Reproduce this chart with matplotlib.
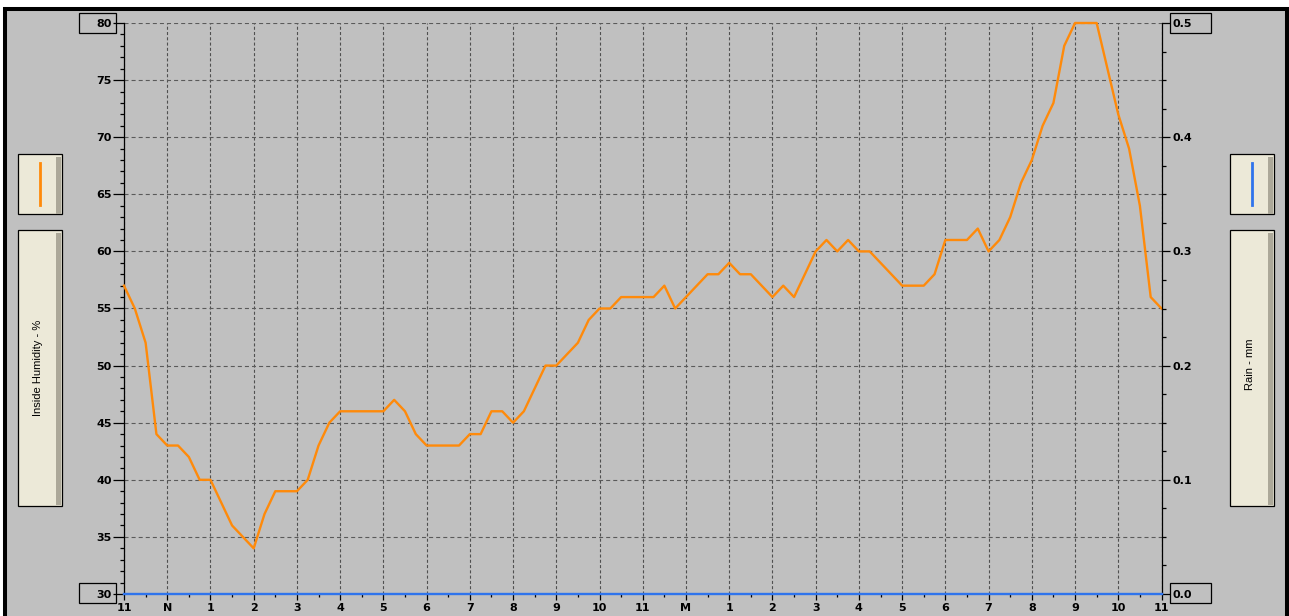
import numpy as np
import matplotlib.pyplot as plt
from matplotlib.patches import Rectangle
from matplotlib.lines import Line2D
from matplotlib.ticker import MultipleLocator, FormatStrFormatter

plt.rcParams["font.family"] = ["Liberation Sans", "DejaVu Sans"]
plt.rcParams["lines.scale_dashes"] = False

# hour labels along the bottom (11 am -> 11 am next day)
hour_labels = ["11", "N", "1", "2", "3", "4", "5", "6", "7", "8", "9", "10", "11",
               "M", "1", "2", "3", "4", "5", "6", "7", "8", "9", "10", "11"]

# inside humidity (%), one reading every 15 minutes
humidity = [57, 55, 52, 44,
            43, 43, 42, 40,
            40, 38, 36, 35,
            34, 37, 39, 39,
            39, 40, 43, 45,
            46, 46, 46, 46,
            46, 47, 46, 44,
            43, 43, 43, 43,
            44, 44, 46, 46,
            45, 46, 48, 50,
            50, 51, 52, 54,
            55, 55, 56, 56,
            56, 56, 57, 55,
            56, 57, 58, 58,
            59, 58, 58, 57,
            56, 57, 56, 58,
            60, 61, 60, 61,
            60, 60, 59, 58,
            57, 57, 57, 58,
            61, 61, 61, 62,
            60, 61, 63, 66,
            68, 71, 73, 78,
            80, 80, 80, 76,
            72, 69, 64, 56,
            55]

# rain (mm) - nothing fell
rain = [0.0] * len(humidity)

hours = np.arange(len(humidity)) * 0.25

ORANGE = "#ff8a0a"
BLUE = "#2f74ec"
W, H = 1289, 616
TICKFONT = dict(family="DejaVu Sans", weight="bold", size=8)


def px(x, y, w, h):
    # pixel box (top-left origin) -> figure fraction
    return (x / W, 1 - (y + h) / H), w / W, h / H


fig = plt.figure(figsize=(W / 100, H / 100), dpi=100, facecolor="white")

# grey panel with black frame
fig.patches.append(Rectangle((5.3 / W, -0.1), (1287 - 5.3) / W, (1 - 9 / H) + 0.1,
                             transform=fig.transFigure, facecolor="#c0c0c0",
                             edgecolor="black", linewidth=2.9, zorder=-10))

ax = fig.add_axes([124 / W, 22 / H, (1161.5 - 124) / W, (594 - 23) / H])
ax.set_facecolor("none")

ax.plot(hours, humidity, color=ORANGE, lw=1.7, clip_on=False, zorder=3)

ax.set_xlim(0, 24)
ax.set_ylim(30, 80)
ax.set_xticks(np.arange(len(hour_labels)), hour_labels)
ax.xaxis.set_minor_locator(MultipleLocator(0.5))
ax.yaxis.set_major_locator(MultipleLocator(5))
ax.yaxis.set_minor_locator(MultipleLocator(1))

ax.tick_params(axis="y", which="major", length=8, width=0.9, pad=0.8)
ax.tick_params(axis="y", which="minor", length=2.8, width=0.9)
ax.tick_params(axis="x", which="major", length=4.3, width=0.9, pad=2.0)
ax.tick_params(axis="x", which="minor", length=2.0, width=0.9)
for lab in ax.get_xticklabels() + ax.get_yticklabels():
    lab.set(**TICKFONT)

ax.grid(axis="x", which="major", color="#505050", linestyle=(0, (2.2, 1.6)), linewidth=0.8)
ax.grid(axis="y", which="major", color="#5a5a5a", linestyle=(0, (2.9, 2.2)), linewidth=0.8)
ax.set_axisbelow(True)

for side in ["top", "bottom", "right"]:
    ax.spines[side].set_visible(False)
ax.spines["left"].set_linewidth(0.9)

ax2 = ax.twinx()
ax2.plot(hours, rain, color=BLUE, lw=1.7, clip_on=False, zorder=4)
ax2.set_ylim(0, 0.5)
ax2.yaxis.set_major_locator(MultipleLocator(0.1))
ax2.yaxis.set_minor_locator(MultipleLocator(0.025))
ax2.yaxis.set_major_formatter(FormatStrFormatter("%.1f"))
ax2.tick_params(axis="y", which="major", length=6, width=0.9, pad=1.6)
ax2.tick_params(axis="y", which="minor", length=2.8, width=0.9)
for lab in ax2.get_yticklabels():
    lab.set(**TICKFONT)
for side in ["top", "bottom", "left"]:
    ax2.spines[side].set_visible(False)
ax2.spines["right"].set_linewidth(0.9)

# boxes round the end values of each scale
for bx, by, bw in [(79, 12.7, 36.7), (79, 583, 36.7), (1170, 12.7, 40.7), (1170, 583, 40.7)]:
    xy, w, h = px(bx, by, bw, 20.3)
    fig.patches.append(Rectangle(xy, w, h, transform=fig.transFigure,
                                 facecolor="none", edgecolor="black", linewidth=0.9))


# legend buttons either side
def button(x, y, w, h):
    xy, fw, fh = px(x, y, w, h)
    fig.patches.append(Rectangle(xy, fw, fh, transform=fig.transFigure,
                                 facecolor="#ece9d8", edgecolor="black", linewidth=0.9))
    xy, fw, fh = px(x + w - 6, y + 3, 5, h - 3.5)
    fig.patches.append(Rectangle(xy, fw, fh, transform=fig.transFigure,
                                 facecolor="#aca899", edgecolor="none"))


button(18.3, 154.3, 43.4, 60)
button(18.3, 230, 43.4, 275.7)
button(1230, 154.3, 44, 60)
button(1230, 230, 44, 275.7)

fig.add_artist(Line2D([40 / W, 40 / W], [1 - 163 / H, 1 - 205 / H], color=ORANGE, lw=2))
fig.add_artist(Line2D([1252.3 / W, 1252.3 / W], [1 - 163 / H, 1 - 205 / H], color=BLUE, lw=2))

fig.text(38 / W, 1 - 368 / H, "Inside Humidity - %", rotation=90,
         ha="center", va="center", fontsize=8)
fig.text(1250 / W, 1 - 364 / H, "Rain - mm", rotation=90,
         ha="center", va="center", fontsize=8)

fig.savefig("out.png", dpi=100)
